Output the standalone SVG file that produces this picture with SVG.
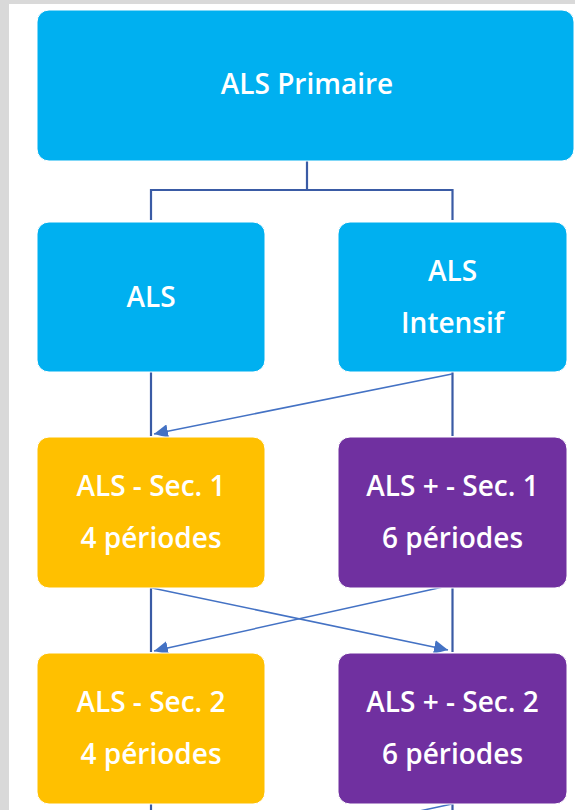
<svg xmlns="http://www.w3.org/2000/svg" width="575" height="810" viewBox="0 0 575 810">
  <defs>
    <style>
      .txt { font-family: "Open Sans", "Noto Sans", sans-serif; font-size: 28px; font-weight: 600; fill: #ffffff; text-anchor: middle; }
      .blue { fill: #00B0F0; stroke: #ffffff; stroke-width: 1; }
      .yellow { fill: #FFC000; stroke: #ffffff; stroke-width: 1; }
      .purple { fill: #7030A0; stroke: #ffffff; stroke-width: 1; }
      .tree { fill: none; stroke: #3A5BA5; stroke-width: 2.2; }
      .diag { fill: none; stroke: #4472C4; stroke-width: 1.5; }
    </style>
    <marker id="arrow" markerUnits="userSpaceOnUse" markerWidth="16" markerHeight="14" refX="14" refY="7" orient="auto">
      <path d="M0,0 L14,7 L0,14 Z" fill="#4472C4"/>
    </marker>
  </defs>

  <rect x="0" y="0" width="575" height="810" fill="#D9D9D9"/>
  <rect x="9" y="4" width="566" height="806" fill="#ffffff"/>

  <g id="connectors">
    <path class="tree" d="M307,161 V190 M151,190 H452.5 M151,189 V220 M452.5,189 V220"/>
    <path class="tree" d="M151,372 V436 M452.5,372 V436"/>
    <path class="tree" d="M151,588 V652 M452.5,588 V652"/>
    <path class="tree" d="M151,804 V812 M452.5,804 V812"/>
    <line class="diag" x1="452" y1="374" x2="154" y2="434" marker-end="url(#arrow)"/>
    <line class="diag" x1="152" y1="588" x2="448" y2="650" marker-end="url(#arrow)"/>
    <line class="diag" x1="452" y1="585" x2="154" y2="651" marker-end="url(#arrow)"/>
    <line class="diag" x1="452" y1="804" x2="154" y2="868"/>
  </g>

  <g id="node-als-primaire">
    <rect class="blue" x="37" y="10" width="537" height="151" rx="12"/>
    <text class="txt" x="307" y="94">ALS Primaire</text>
  </g>

  <g id="node-als">
    <rect class="blue" x="37" y="222" width="228" height="150" rx="12"/>
    <text class="txt" x="151" y="307">ALS</text>
  </g>

  <g id="node-als-intensif">
    <rect class="blue" x="338" y="222" width="229" height="150" rx="12"/>
    <text class="txt" x="452.5" y="281">ALS</text>
    <text class="txt" x="452.5" y="333">Intensif</text>
  </g>

  <g id="node-als-sec1">
    <rect class="yellow" x="37" y="437" width="228" height="151" rx="12"/>
    <text class="txt" x="151" y="496">ALS - Sec. 1</text>
    <text class="txt" x="151" y="548">4 périodes</text>
  </g>

  <g id="node-alsplus-sec1">
    <rect class="purple" x="338" y="437" width="229" height="151" rx="12"/>
    <text class="txt" x="452.5" y="496">ALS + - Sec. 1</text>
    <text class="txt" x="452.5" y="548">6 périodes</text>
  </g>

  <g id="node-als-sec2">
    <rect class="yellow" x="37" y="653" width="228" height="151" rx="12"/>
    <text class="txt" x="151" y="712">ALS - Sec. 2</text>
    <text class="txt" x="151" y="764">4 périodes</text>
  </g>

  <g id="node-alsplus-sec2">
    <rect class="purple" x="338" y="653" width="229" height="151" rx="12"/>
    <text class="txt" x="452.5" y="712">ALS + - Sec. 2</text>
    <text class="txt" x="452.5" y="764">6 périodes</text>
  </g>
</svg>
